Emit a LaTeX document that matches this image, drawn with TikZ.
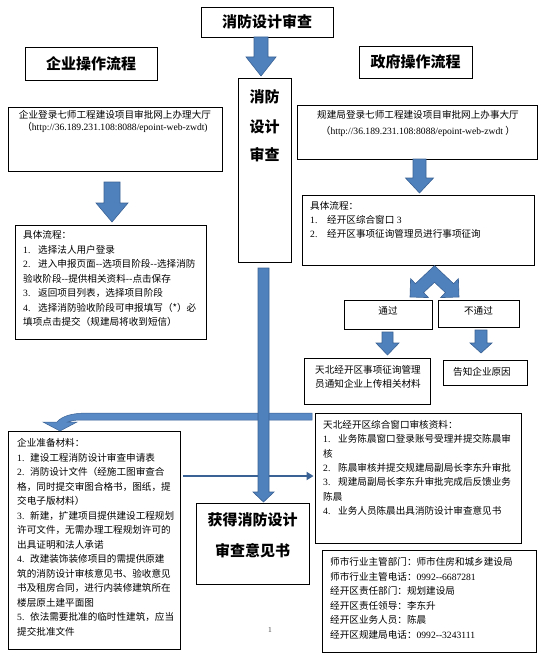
\documentclass[tikz,border=0pt]{standalone}
\usepackage{fontspec}
\setmainfont{Liberation Serif}
\newfontfamily\cjk{Noto Sans CJK SC}
\usetikzlibrary{arrows.meta,calc}
\definecolor{ablue}{HTML}{4F81BD}
\definecolor{aline}{HTML}{3A6294}
\definecolor{cblue}{HTML}{5A8AC6}
\newcommand{\en}[1]{{\rmfamily #1}}
\newcommand{\nm}[2][15pt]{\makebox[#1][l]{\rmfamily #2}}
\newcommand{\bdown}[6]{\filldraw[barrow] (#1-#5,#2) -- (#1+#5,#2) -- (#1+#5,#3) -- (#1+#6,#3) -- (#1,#4) -- (#1-#6,#3) -- (#1-#5,#3) -- cycle;}
\begin{document}
\begin{tikzpicture}[x=1pt,y=-1pt,
 box/.style={draw=black,line width=0.9pt,inner sep=0pt},
 tx/.style={inner sep=0pt,font=\cjk\fontsize{9.6}{12}\selectfont},
 hd/.style={inner sep=0pt,font=\cjk\bfseries\fontsize{15}{18}\selectfont},
 barrow/.style={fill=ablue,draw=aline,line width=0.6pt}]
\useasboundingbox[fill=white] (0,0) rectangle (541,661);

% boxes
\node[box,minimum width=132pt,minimum height=30pt] (title) at (267,22) {};
\node[box,minimum width=53pt,minimum height=184pt] (vbox) at (264.5,170) {};
\node[box,minimum width=132pt,minimum height=33pt] (lhead) at (91,63.5) {};
\node[box,minimum width=113pt,minimum height=32pt] (rhead) at (415.5,62) {};
\node[box,minimum width=214pt,minimum height=64pt] (lurl) at (115,139) {};
\node[box,minimum width=240pt,minimum height=54pt] (rurl) at (417,132) {};
\node[box,minimum width=191pt,minimum height=114pt] (lproc) at (110.5,282) {};
\node[box,minimum width=232pt,minimum height=70pt] (rproc) at (418,230) {};
\node[box,minimum width=88pt,minimum height=29pt] (pass) at (388,314.5) {};
\node[box,minimum width=81pt,minimum height=27pt] (fail) at (478.5,313.5) {};
\node[box,minimum width=126pt,minimum height=46pt] (notify) at (367,381) {};
\node[box,minimum width=84pt,minimum height=25pt] (reason) at (485,372.5) {};
\node[box,minimum width=172pt,minimum height=218pt] (lmat) at (94,540) {};
\node[box,minimum width=206pt,minimum height=130pt] (review) at (418,478) {};
\node[box,minimum width=113pt,minimum height=81pt] (result) at (252.5,543.5) {};
\node[box,minimum width=214pt,minimum height=102pt] (info) at (429,601) {};

% headings
\node[hd] (titlet) at (title.center) {消防设计审查};
\node[hd] (vb1) at (264.5,97) {消防};
\node[hd] (vb2) at (264.5,127) {设计};
\node[hd] (vb3) at (264.5,155) {审查};
\node[hd] (lheadt) at (lhead.center) {企业操作流程};
\node[hd] (rheadt) at (rhead.center) {政府操作流程};
\node[hd] (res1) at (252.5,520) {获得消防设计};
\node[hd] (res2) at (252.5,551) {审查意见书};

% url boxes
\node[tx,anchor=base] (lurl1) at (115,118.6) {企业登录七师工程建设项目审批网上办理大厅};
\node[tx,anchor=base] (lurl2) at (115,130) {（\en{http://36.189.231.108:8088/epoint-web-zwdt)}};
\node[tx,anchor=base] (rurl1) at (418,118.6) {规建局登录七师工程建设项目审批网上办事大厅};
\node[tx,anchor=base] (rurl2) at (418,134) {（\en{http://36.189.231.108:8088/epoint-web-zwdt }）};

% left process
\node[tx,anchor=base west] (lp1) at (23,238.6) {具体流程：};
\node[tx,anchor=base west] (lp2) at (23,253.1) {\nm{1.}选择法人用户登录};
\node[tx,anchor=base west] (lp3) at (23,267.6) {\nm{2.}进入申报页面-{}-选项目阶段-{}-选择消防};
\node[tx,anchor=base west] (lp4) at (23,282.1) {验收阶段-{}-提供相关资料-{}-点击保存};
\node[tx,anchor=base west] (lp5) at (23,296.6) {\nm{3.}返回项目列表，选择项目阶段};
\node[tx,anchor=base west] (lp6) at (23,311.1) {\nm{4.}选择消防验收阶段可申报填写（*）必};
\node[tx,anchor=base west] (lp7) at (23,325.6) {填项点击提交（规建局将收到短信）};

% right process
\node[tx,anchor=base west] (rp1) at (310,209) {具体流程：};
\node[tx,anchor=base west] (rp2) at (310,223) {\nm[17pt]{1.}经开区综合窗口\en{ 3}};
\node[tx,anchor=base west] (rp3) at (310,237) {\nm[17pt]{2.}经开区事项征询管理员进行事项征询};

% pass / fail
\node[tx] (passt) at (388,311) {通过};
\node[tx] (failt) at (478.5,310.5) {不通过};
\node[tx,anchor=base] (nt1) at (368,373.6) {天北经开区事项征询管理};
\node[tx,anchor=base] (nt2) at (368,387.6) {员通知企业上传相关材料};
\node[tx] (reasont) at (482,372) {告知企业原因};

% materials
\node[tx,anchor=base west] (m1) at (17,446.6) {企业准备材料：};
\node[tx,anchor=base west] (m2) at (17,461.1) {\nm[13pt]{1.}建设工程消防设计审查申请表};
\node[tx,anchor=base west] (m3) at (17,475.6) {\nm[13pt]{2.}消防设计文件（经施工图审查合};
\node[tx,anchor=base west] (m4) at (17,490.1) {格，同时提交审图合格书，图纸，提};
\node[tx,anchor=base west] (m5) at (17,504.6) {交电子版材料）};
\node[tx,anchor=base west] (m6) at (17,519.1) {\nm[13pt]{3.}新建，扩建项目提供建设工程规划};
\node[tx,anchor=base west] (m7) at (17,533.6) {许可文件，无需办理工程规划许可的};
\node[tx,anchor=base west] (m8) at (17,548.1) {出具证明和法人承诺};
\node[tx,anchor=base west] (m9) at (17,562.6) {\nm[13pt]{4.}改建装饰装修项目的需提供原建};
\node[tx,anchor=base west] (m10) at (17,577.1) {筑的消防设计审核意见书、验收意见};
\node[tx,anchor=base west] (m11) at (17,591.6) {书及租房合同，进行内装修建筑所在};
\node[tx,anchor=base west] (m12) at (17,606.1) {楼层原土建平面图};
\node[tx,anchor=base west] (m13) at (17,620.6) {\nm[13pt]{5.}依法需要批准的临时性建筑，应当};
\node[tx,anchor=base west] (m14) at (17,635.1) {提交批准文件};

% review
\node[tx,anchor=base west] (r1) at (323,428.6) {天北经开区综合窗口审核资料：};
\node[tx,anchor=base west] (r2) at (323,442.9) {\nm{1.}业务陈晨窗口登录账号受理并提交陈晨审};
\node[tx,anchor=base west] (r3) at (323,457.2) {核};
\node[tx,anchor=base west] (r4) at (323,471.5) {\nm{2.}陈晨审核并提交规建局副局长李东升审批};
\node[tx,anchor=base west] (r5) at (323,485.8) {\nm{3.}规建局副局长李东升审批完成后反馈业务};
\node[tx,anchor=base west] (r6) at (323,500.1) {陈晨};
\node[tx,anchor=base west] (r7) at (323,514.4) {\nm{4.}业务人员陈晨出具消防设计审查意见书};

% info
\node[tx,anchor=base west] (i1) at (330,565.6) {师市行业主管部门：师市住房和城乡建设局};
\node[tx,anchor=base west] (i2) at (330,580.1) {师市行业主管电话：\en{0992-{}-6687281}};
\node[tx,anchor=base west] (i3) at (330,594.6) {经开区责任部门：规划建设局};
\node[tx,anchor=base west] (i4) at (330,609.1) {经开区责任领导：李东升};
\node[tx,anchor=base west] (i5) at (330,623.6) {经开区业务人员：陈晨};
\node[tx,anchor=base west] (i6) at (330,638.1) {经开区规建局电话：\en{0992-{}-3243111}};

\node[inner sep=0pt,font=\rmfamily\fontsize{7.5}{9}\selectfont,text=black!75] (pg) at (270,630) {1};

% block arrows
\bdown{261}{37}{57}{76}{7}{15}
\bdown{112}{182}{203}{222}{8}{16}
\bdown{419.5}{159}{178}{193}{6.5}{14}
\bdown{387.5}{332}{343}{355}{5.5}{11.5}
\bdown{481}{330}{343}{353}{6}{11}

% fork arrow
\filldraw[barrow] (434.5,265.7) -- (415.4,283.7) -- (410.6,278.6) -- (410,297) -- (428.4,297.6) -- (423.6,292.5) -- (434.5,282.3) -- (445.4,292.5) -- (440.6,297.6) -- (459,297) -- (458.4,278.6) -- (453.6,283.7) -- cycle;

% curved arrow
\filldraw[fill=cblue,draw=aline,line width=0.5pt] (312,413) -- (88,413) .. controls (72,413) and (62,416) .. (57,422) -- (43,422) -- (60,431) -- (77,422) -- (68,422) .. controls (72,420) and (78,420) .. (88,420) -- (312,420) -- cycle;

% thin arrow
\coordinate (ta1) at (lmat.east |- 0,476);
\coordinate (ta2) at (review.west |- 0,476);
\draw[aline,line width=2.6pt,-{Triangle[length=7pt,width=8pt]}] ([xshift=3pt]ta1) -- ([xshift=-1pt]ta2);

% main arrow
\bdown{263.5}{268}{492}{502}{5.5}{10.5}
\end{tikzpicture}
\end{document}
